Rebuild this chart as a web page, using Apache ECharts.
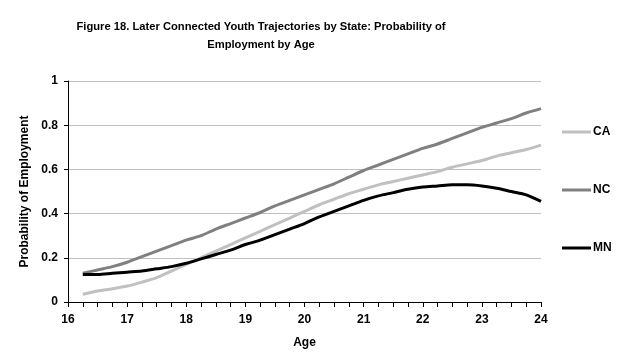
<!DOCTYPE html>
<html>
<head>
<meta charset="utf-8">
<script src="https://cdn.jsdelivr.net/npm/echarts@6/dist/echarts.min.js"></script>
<style>
  html, body { margin: 0; padding: 0; background: #fff; }
  #chart { width: 624px; height: 360px; }
</style>
</head>
<body>
<div id="chart"></div>
<script>
// ages, quarter-year steps
const ages = [16.25, 16.5, 16.75, 17, 17.25, 17.5, 17.75, 18, 18.25, 18.5, 18.75, 19, 19.25, 19.5, 19.75, 20,
  20.25, 20.5, 20.75, 21, 21.25, 21.5, 21.75, 22, 22.25, 22.5, 22.75, 23, 23.25, 23.5, 23.75, 24];
const ca = [0.035, 0.05, 0.06, 0.072, 0.09, 0.11, 0.14, 0.17, 0.2, 0.23, 0.26, 0.29, 0.32, 0.35, 0.38, 0.41,
  0.44, 0.465, 0.49, 0.51, 0.53, 0.545, 0.56, 0.575, 0.59, 0.61, 0.625, 0.64, 0.66, 0.675, 0.69, 0.71];
const nc = [0.13, 0.145, 0.16, 0.18, 0.205, 0.23, 0.255, 0.28, 0.3, 0.33, 0.355, 0.38, 0.405, 0.435, 0.46, 0.485,
  0.51, 0.535, 0.565, 0.595, 0.62, 0.645, 0.67, 0.695, 0.715, 0.74, 0.765, 0.79, 0.81, 0.83, 0.855, 0.875];
const mn = [0.125, 0.125, 0.13, 0.135, 0.14, 0.15, 0.16, 0.175, 0.195, 0.215, 0.235, 0.26, 0.28, 0.305, 0.33, 0.355,
  0.385, 0.41, 0.435, 0.46, 0.48, 0.495, 0.51, 0.52, 0.525, 0.53, 0.53, 0.525, 0.515, 0.5, 0.485, 0.455];

const states = ['CA', 'NC', 'MN'];
const colors = ['#c0c0c0', '#808080', '#000000'];
const values = [ca, nc, mn];

const font = '"Liberation Sans", Arial, sans-serif';
const chart = echarts.init(document.getElementById('chart'), null, { renderer: 'canvas' });

chart.setOption({
  animation: false,
  textStyle: { fontFamily: font },
  title: {
    text: 'Figure 18. Later Connected Youth Trajectories by State: Probability of\nEmployment by Age',
    left: 256,
    top: 13,
    textAlign: 'center',
    textStyle: { fontSize: 11.2, fontWeight: 'bold', color: '#000', lineHeight: 18, fontFamily: font }
  },
  legend: {
    orient: 'vertical',
    left: 557,
    top: 121,
    itemWidth: 29,
    itemHeight: 3,
    itemGap: 46,
    icon: 'rect',
    textStyle: { fontSize: 12, fontWeight: 'bold', color: '#000', padding: [0, 0, 0, -3] },
    data: states.map((s, i) => ({ name: s, itemStyle: { color: colors[i] } }))
  },
  grid: { left: 68, right: 83, top: 81, bottom: 58 },
  xAxis: {
    type: 'value',
    min: 16,
    max: 24,
    interval: 1,
    name: 'Age',
    nameLocation: 'middle',
    nameGap: 35,
    nameTextStyle: { fontSize: 12, fontWeight: 'bold', color: '#000' },
    axisLine: { lineStyle: { color: '#000', width: 1 } },
    axisTick: { length: 5, lineStyle: { color: '#000' } },
    minorTick: { show: true, splitNumber: 4, length: 5, lineStyle: { color: '#000' } },
    axisLabel: { fontSize: 12, fontWeight: 'bold', color: '#000', margin: 12 },
    splitLine: { show: false }
  },
  yAxis: {
    type: 'value',
    min: 0,
    max: 1,
    interval: 0.2,
    name: 'Probability of Employment',
    nameLocation: 'middle',
    nameGap: 32,
    nameTextStyle: { fontSize: 12, fontWeight: 'bold', color: '#000' },
    axisLine: { show: true, lineStyle: { color: '#000', width: 1 } },
    axisTick: { show: true, length: 4, lineStyle: { color: '#000' } },
    axisLabel: { fontSize: 12, fontWeight: 'bold', color: '#000', margin: 10 },
    splitLine: { lineStyle: { color: '#c0c0c0', width: 1 } }
  },
  series: states.map((s, i) => ({
    name: s,
    type: 'line',
    symbol: 'none',
    smooth: 0.3,
    color: colors[i],
    lineStyle: { color: colors[i], width: 3 },
    data: ages.map((a, j) => [a, values[i][j]])
  }))
});
</script>
</body>
</html>
